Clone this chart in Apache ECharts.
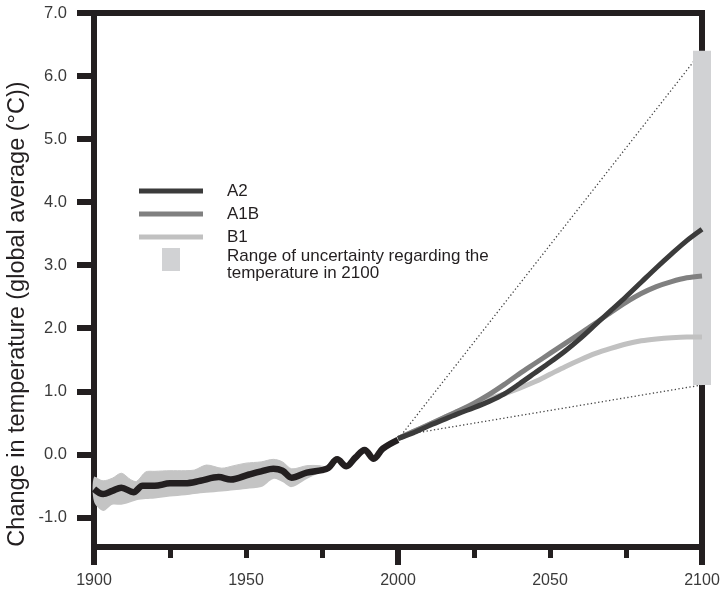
<!DOCTYPE html>
<html><head><meta charset="utf-8">
<script src="https://cdn.jsdelivr.net/npm/echarts@6/dist/echarts.min.js"></script>
<style>html,body{margin:0;padding:0;background:#fff}#c{width:724px;height:590px}</style>
</head><body><div id="c"></div>
<script>
// ---- data ----
const histYears  = [1900,1903,1906,1909,1913,1916,1920,1925,1930,1935,1941,1945,1951,1955,1959,1962,1965,1970,1975,1977,1980,1983,1986,1989,1992,1995,2000];
const histValues = [-0.55,-0.63,-0.58,-0.53,-0.6,-0.5,-0.5,-0.46,-0.46,-0.42,-0.36,-0.4,-0.32,-0.27,-0.23,-0.26,-0.37,-0.29,-0.25,-0.22,-0.08,-0.19,-0.05,0.07,-0.07,0.09,0.23];

const bandYears = [1900,1903,1906,1909,1912,1914,1917,1920,1925,1930,1933,1937,1942,1946,1950,1955,1959,1962,1965,1970,1974,1977];
const bandUpper = [-0.36,-0.42,-0.38,-0.3,-0.4,-0.43,-0.28,-0.27,-0.26,-0.26,-0.25,-0.17,-0.22,-0.18,-0.14,-0.12,-0.08,-0.12,-0.23,-0.18,-0.18,-0.21];
const bandLower = [-0.75,-0.9,-0.8,-0.8,-0.76,-0.73,-0.71,-0.7,-0.67,-0.65,-0.63,-0.61,-0.59,-0.57,-0.55,-0.52,-0.39,-0.44,-0.52,-0.39,-0.3,-0.23];

const projYears = [2000,2005,2010,2015,2020,2025,2030,2035,2040,2045,2050,2055,2060,2065,2070,2075,2080,2085,2090,2095,2100];
const a2Values  = [0.25,0.34,0.45,0.55,0.65,0.74,0.84,0.96,1.12,1.29,1.46,1.64,1.84,2.06,2.28,2.5,2.73,2.96,3.18,3.39,3.57];
const a1bValues = [0.25,0.36,0.47,0.58,0.69,0.81,0.95,1.11,1.28,1.44,1.6,1.76,1.92,2.08,2.25,2.41,2.55,2.66,2.74,2.8,2.83];
const b1Values  = [0.25,0.36,0.47,0.58,0.69,0.79,0.88,0.96,1.05,1.15,1.27,1.39,1.5,1.6,1.68,1.75,1.8,1.83,1.85,1.86,1.86];

const rangeYear = 2100;
const rangeLow = 1.1;
const rangeHigh = 6.4;
const fanStartYear = 2001;
const fanStartValue = 0.3;

const xLabelValues = [1900,1950,2000,2050,2100];
const xMinorTickValues = [1900,1925,1950,1975,2000,2025,2050,2075,2100];
const xMajorTickValues = [1900,2000,2100];
const yTickValues = [-1,0,1,2,3,4,5,6,7];

const seriesNames = ['A2','A1B','B1'];
const yAxisTitle = 'Change in temperature (global average (°C))';
const rangeLabel = 'Range of uncertainty regarding the\ntemperature in 2100';

// ---- helpers ----
const zip = (xs, ys) => xs.map((x, i) => [x, ys[i]]);
const INK = '#231f20';
const FONT = 'Liberation Sans, Arial, sans-serif';

const chart = echarts.init(document.getElementById('c'), null, {renderer: 'canvas'});
chart.setOption({
  animation: false,
  backgroundColor: '#fff',
  grid: {left: 94, right: 22, top: 13, bottom: 43, show: true, borderColor: INK, borderWidth: 6, backgroundColor: 'transparent'},
  xAxis: [
    {type: 'value', min: 1900, max: 2100, interval: 25, position: 'bottom',
     axisLine: {show: true, onZero: false, lineStyle: {color: INK, width: 6}},
     axisTick: {show: true, length: 11, customValues: xMinorTickValues, lineStyle: {color: INK, width: 5}},
     axisLabel: {customValues: xLabelValues, formatter: v => String(v), fontSize: 16, color: '#3a3a3a', margin: 26, fontFamily: FONT},
     splitLine: {show: false}},
    {type: 'value', min: 1900, max: 2100, interval: 100, position: 'bottom',
     axisLine: {show: false, onZero: false},
     axisTick: {show: true, length: 18, customValues: xMajorTickValues, lineStyle: {color: INK, width: 6}},
     axisLabel: {show: false}, splitLine: {show: false}}
  ],
  yAxis: {type: 'value', min: -1.47, max: 7,
    axisLine: {show: true, onZero: false, lineStyle: {color: INK, width: 6}},
    axisTick: {show: true, length: 17, customValues: yTickValues, lineStyle: {color: INK, width: 6}},
    axisLabel: {customValues: yTickValues, formatter: v => v.toFixed(1), fontSize: 16.5, color: '#3a3a3a', margin: 27, fontFamily: FONT},
    splitLine: {show: false}},
  legend: {data: seriesNames, orient: 'vertical', left: 139, top: 182, padding: 0,
    itemWidth: 64, itemHeight: 5, itemGap: 5, icon: 'rect', selectedMode: false,
    textStyle: {fontSize: 17, color: INK, lineHeight: 18, padding: [0, 0, 0, 19], fontFamily: FONT}},
  graphic: [
    {type: 'rect', left: 162, top: 248, shape: {width: 18, height: 23}, style: {fill: '#d1d2d4'}},
    {type: 'text', left: 227, top: 248, style: {text: rangeLabel, fontSize: 17, lineHeight: 16.5, fill: INK, fontFamily: FONT}},
    {type: 'text', x: 18, y: 314, rotation: Math.PI / 2,
     style: {text: yAxisTitle, fontSize: 23.5, fill: INK, fontFamily: FONT, align: 'center', verticalAlign: 'middle'}}
  ],
  series: [
    {name: 'band', type: 'custom', z: 1, silent: true,
     data: bandYears.map((y, i) => [y, bandLower[i], bandUpper[i]]),
     encode: {x: 0, y: [1, 2]},
     renderItem: (params, api) => {
       if (params.dataIndex !== 0) return null;
       const up = bandYears.map((y, i) => api.coord([y, bandUpper[i]]));
       const lo = bandYears.map((y, i) => api.coord([y, bandLower[i]])).reverse();
       return {type: 'group', children: [
         {type: 'polyline', shape: {points: up, smooth: 0.3}, style: {stroke: '#c4c4c4', lineWidth: 1, fill: null}},
         {type: 'polygon', shape: {points: up.concat(lo), smooth: 0.3}, style: {fill: '#c4c4c4'}}
       ]};
     }},
    {name: 'fanHigh', type: 'line', data: [[fanStartYear, fanStartValue], [rangeYear, rangeHigh]], symbol: 'none',
     lineStyle: {color: '#444', width: 1.3, type: [1.3, 2.4]}, z: 2},
    {name: 'fanLow', type: 'line', data: [[fanStartYear, fanStartValue], [rangeYear, rangeLow]], symbol: 'none',
     lineStyle: {color: '#444', width: 1.3, type: [1.3, 2.4]}, z: 2},
    {name: 'range', type: 'custom', data: [[rangeYear, rangeLow, rangeHigh]], encode: {x: 0, y: [1, 2]}, z: 3,
     renderItem: (params, api) => {
       const top = api.coord([api.value(0), api.value(2)]);
       const bot = api.coord([api.value(0), api.value(1)]);
       return {type: 'rect', shape: {x: top[0] - 9, y: top[1], width: 18, height: bot[1] - top[1]}, style: {fill: '#d1d2d4'}};
     }},
    {name: 'history', type: 'line', data: zip(histYears, histValues), symbol: 'none', smooth: 0.35,
     lineStyle: {color: INK, width: 6.5}, z: 5},
    {name: 'B1', type: 'line', color: '#c1c1c1', data: zip(projYears, b1Values), symbol: 'none', smooth: 0.3,
     lineStyle: {color: '#c1c1c1', width: 5}, z: 4},
    {name: 'A1B', type: 'line', color: '#808080', data: zip(projYears, a1bValues), symbol: 'none', smooth: 0.3,
     lineStyle: {color: '#808080', width: 5}, z: 4},
    {name: 'A2', type: 'line', color: '#3b3b3b', data: zip(projYears, a2Values), symbol: 'none', smooth: 0.3,
     lineStyle: {color: '#3b3b3b', width: 5}, z: 4}
  ]
});
</script></body></html>
